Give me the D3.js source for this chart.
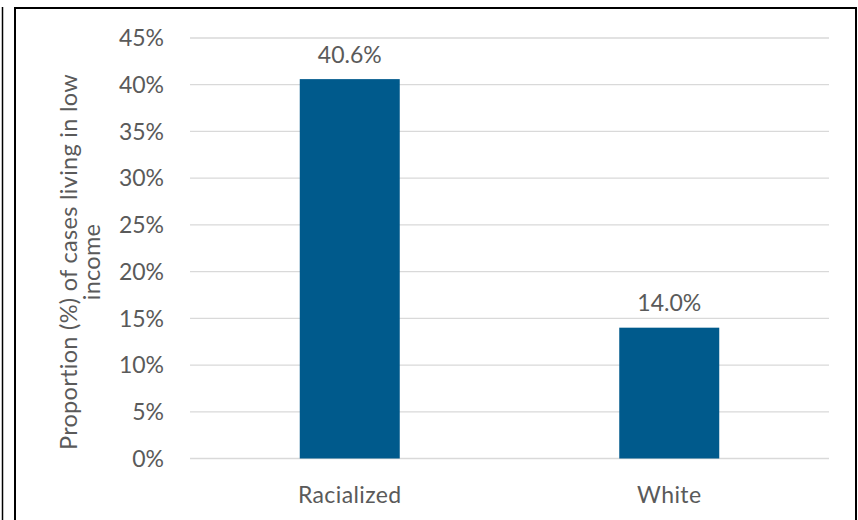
<!DOCTYPE html>
<html>
<head>
<meta charset="utf-8">
<script src="https://cdn.jsdelivr.net/npm/d3@7/dist/d3.min.js"></script>
<style>
  body { margin: 0; background: #fff; }
  text { font-family: Lato, "Open Sans", sans-serif; fill: #5a5a5a; }
</style>
</head>
<body>
<div id="chart"></div>
<script>
// data
var categories = ["Racialized", "White"];
var values = [40.6, 14.0];
var valueLabels = ["40.6%", "14.0%"];
var yTicks = [0, 5, 10, 15, 20, 25, 30, 35, 40, 45];
var yTitle = ["Proportion (%) of cases living in low", "income"];

var W = 858, H = 520;
var svg = d3.select("#chart").append("svg").attr("width", W).attr("height", H);

// outer frames
svg.append("line").attr("x1", 2.5).attr("x2", 2.5).attr("y1", 7).attr("y2", H)
  .attr("stroke", "#000").attr("stroke-width", 1.5);
svg.append("rect").attr("x", 15).attr("y", 8).attr("width", 841).attr("height", H)
  .attr("fill", "none").attr("stroke", "#000").attr("stroke-width", 2);

var x = d3.scaleBand().domain(categories).range([190, 829])
  .paddingInner(0.687).paddingOuter(0.3435);
var y = d3.scaleLinear().domain([0, 45]).range([458.5, 38]);

// gridlines
svg.append("g").selectAll("line").data(yTicks).enter().append("line")
  .attr("x1", 190).attr("x2", 829)
  .attr("y1", function (d) { return y(d); }).attr("y2", function (d) { return y(d); })
  .attr("stroke", "#d9d9d9").attr("stroke-width", 1.3);

// y tick labels
svg.append("g").selectAll("text").data(yTicks).enter().append("text")
  .attr("x", 164).attr("y", function (d) { return y(d); })
  .attr("dy", "0.36em").attr("text-anchor", "end")
  .style("font-size", "23px")
  .text(function (d) { return d + "%"; });

// bars
svg.append("g").selectAll("rect").data(values).enter().append("rect")
  .attr("x", function (d, i) { return x(categories[i]); })
  .attr("width", x.bandwidth())
  .attr("y", function (d) { return y(d); })
  .attr("height", function (d) { return y(0) - y(d); })
  .attr("fill", "#005a8c");

// value labels
svg.append("g").selectAll("text").data(values).enter().append("text")
  .attr("x", function (d, i) { return x(categories[i]) + x.bandwidth() / 2; })
  .attr("y", function (d) { return y(d) - 16.5; })
  .attr("text-anchor", "middle").style("font-size", "23px")
  .text(function (d, i) { return valueLabels[i]; });

// category labels
svg.append("g").selectAll("text").data(categories).enter().append("text")
  .attr("x", function (d) { return x(d) + x.bandwidth() / 2; })
  .attr("y", 503).attr("text-anchor", "middle").style("font-size", "23px")
  .style("letter-spacing", "0.4px")
  .text(function (d) { return d; });

// y title
var t = svg.append("text").attr("transform", "translate(77,262) rotate(-90)")
  .attr("text-anchor", "middle").style("font-size", "23.5px")
  .style("letter-spacing", "0.3px");
t.selectAll("tspan").data(yTitle).enter().append("tspan")
  .attr("x", 0).attr("y", function (d, i) { return i * 23; })
  .text(function (d) { return d; });
</script>
</body>
</html>
